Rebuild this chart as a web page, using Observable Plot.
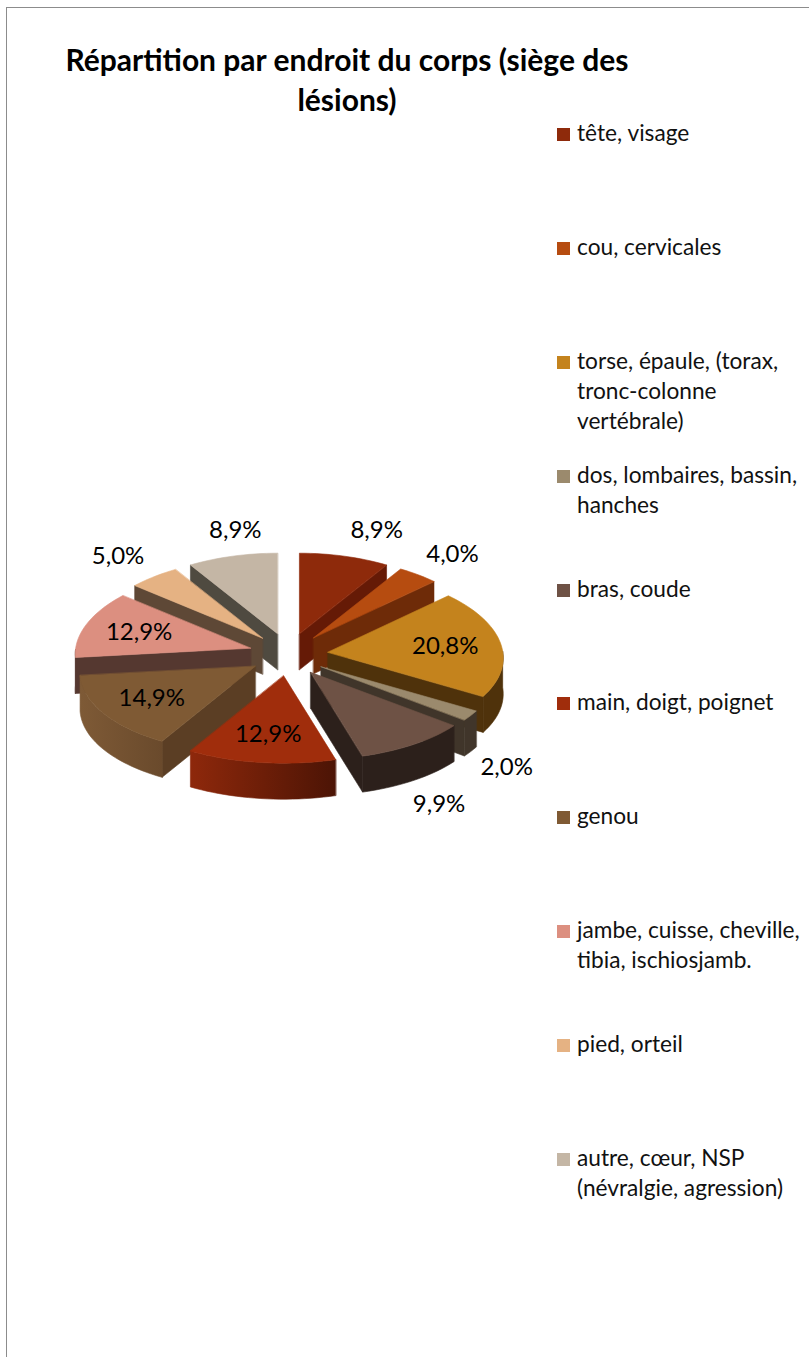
<!DOCTYPE html>
<html lang="fr">
<head>
<meta charset="utf-8">
<script src="https://cdn.jsdelivr.net/npm/d3@7"></script>
<script src="https://cdn.jsdelivr.net/npm/@observablehq/plot@0.6"></script>
<style>
  html, body { margin: 0; padding: 0; background: #fff; }
  body { position: relative; width: 809px; height: 1357px; overflow: hidden; font-family: Lato, sans-serif; color: #111; }
  #frame { position: absolute; left: 6px; top: 7px; width: 900px; height: 1500px; border: 1px solid #8c8c8c; }
  #plot { position: absolute; left: 0; top: 0; }
  #plot svg { display: block; }
  h1 { position: absolute; left: 32px; width: 630px; top: 39px; margin: 0; text-align: center; font-size: 30px; line-height: 40px; font-weight: 700; color: #000; }
  #legend { position: absolute; left: 557px; top: 118px; width: 252px; font-size: 22.7px; line-height: 30px; }
  .item { position: relative; height: 113.9px; padding-left: 20px; box-sizing: border-box; white-space: pre-line; }
  .item i { position: absolute; left: 0; top: 10px; width: 13px; height: 13px; }
</style>
</head>
<body>
<div id="frame"></div>
<div id="plot"></div>
<h1>Répartition par endroit du corps (siège des lésions)</h1>
<div id="legend"></div>
<script>
const categories = [
  "tête, visage", "cou, cervicales", "torse, épaule, (torax,\ntronc-colonne\nvertébrale)",
  "dos, lombaires, bassin,\nhanches", "bras, coude", "main, doigt, poignet", "genou",
  "jambe, cuisse, cheville,\ntibia, ischiosjamb.", "pied, orteil", "autre, cœur, NSP\n(névralgie, agression)"
];
const values = [8.9, 4.0, 20.8, 2.0, 9.9, 12.9, 14.9, 12.9, 5.0, 8.9];
const topColors  = ["#8E2A0B", "#B64C10", "#C4831D", "#9B8A6D", "#6E5245", "#A02D0C", "#7F5A34", "#DC8F80", "#E5B283", "#C4B6A5"];
const faceColors = ["#651A06", "#6E2B08", "#4F320B", "#40352A", "#2C201B", "#5E1A07", "#5B3E24", "#553830", "#5E4836", "#4F4A40"];
const wallLeft   = ["#651A06", "#6E2B08", "#4F320B", "#40352A", "#2C201B", "#8E280B", "#7E5A36", "#553830", "#5E4836", "#4F4A40"];
const wallRight  = ["#651A06", "#6E2B08", "#4F320B", "#40352A", "#2C201B", "#4C1405", "#6A4A2C", "#553830", "#5E4836", "#4F4A40"];

// Layout of the tilted, exploded pie, in pixels of the picture
const W = 809, H = 1357, cx = 288, cy = 654, rx = 175, ry = 84, depth = 36 / ry;
const explodeX = 0.226, explodeY = 0.256, tiltY = 0.04, tiltX = 0.07;

const arcs = d3.pie().value(d => d).sort(null)(values);
const midOf = i => (arcs[i].startAngle + arcs[i].endAngle) / 2;
const project = (i, a, r, drop = 0) => {
  const mid = midOf(i), c = Math.cos(a);
  return {
    x: explodeX * Math.sin(mid) + r * Math.sin(a) * (1 - tiltX * c),
    y: explodeY * Math.cos(mid) + r * c * (1 - tiltY * c) - drop
  };
};

const polys = [];
const add = (id, fill, pts) => pts.forEach(p => polys.push({ ...p, id, fill }));
// slices back to front
const order = d3.range(values.length).sort((p, q) => Math.cos(midOf(q)) - Math.cos(midOf(p)));
for (const i of order) {
  const { startAngle: a0, endAngle: a1 } = arcs[i];
  const steps = Math.max(2, Math.ceil((a1 - a0) / (Math.PI / 90)));
  const angles = d3.range(steps + 1).map(k => a0 + (a1 - a0) * k / steps);
  if (Math.sin(a0) < 0) add(`s${i}`, faceColors[i], [project(i, a0, 0), project(i, a0, 1), project(i, a0, 1, depth), project(i, a0, 0, depth)]);
  if (Math.sin(a1) > 0) add(`e${i}`, faceColors[i], [project(i, a1, 0), project(i, a1, 1), project(i, a1, 1, depth), project(i, a1, 0, depth)]);
  const front = angles.filter(a => Math.cos(a) < 0.02);
  if (front.length > 1) {
    add(`w${i}`, `url(#wall${i})`, [
      ...front.map(a => project(i, a, 1)),
      ...front.slice().reverse().map(a => project(i, a, 1, depth))
    ]);
  }
  add(`t${i}`, topColors[i], [project(i, a0, 0), ...angles.map(a => project(i, a, 1))]);
}

const fmt = v => d3.format(".1f")(v).replace(".", ",") + "%";
const labels = values.map((v, i) => {
  const mid = midOf(i), inside = v >= 12, front = Math.cos(mid) < 0;
  const r = inside ? 0.68 : 1.33;
  const p = project(i, mid, r, !inside && front ? depth : 0);
  const outerShift = inside ? 0
    : front ? -0.07 * r * Math.sin(mid)
    : Math.cos(mid) > 0.9 ? 0.1 : 0;
  return { x: p.x + outerShift, y: p.y, text: fmt(v) };
});

const chart = Plot.plot({
  width: W, height: H, margin: 0,
  x: { domain: [-cx / rx, (W - cx) / rx], range: [0, W], axis: null },
  y: { domain: [(cy - H) / ry, cy / ry], range: [H, 0], axis: null },
  color: { type: "identity" },
  style: { background: "transparent" },
  marks: [
    Plot.line(polys, { x: "x", y: "y", z: "id", fill: "fill", stroke: "fill", strokeWidth: 0.6, curve: "linear-closed" }),
    Plot.text(labels, { x: "x", y: "y", text: "text", fill: "#000", fontSize: 24, fontFamily: "Lato, sans-serif" })
  ]
});
const defs = d3.select(chart).insert("defs", ":first-child");
values.forEach((v, i) => {
  const g = defs.append("linearGradient").attr("id", `wall${i}`);
  g.append("stop").attr("offset", 0).attr("stop-color", wallLeft[i]);
  g.append("stop").attr("offset", 1).attr("stop-color", wallRight[i]);
});
document.getElementById("plot").append(chart);

const legend = d3.select("#legend").selectAll(".item").data(categories).join("div").attr("class", "item");
legend.append("i").style("background", (d, i) => topColors[i]);
legend.append("span").text(d => d);
</script>
</body>
</html>
